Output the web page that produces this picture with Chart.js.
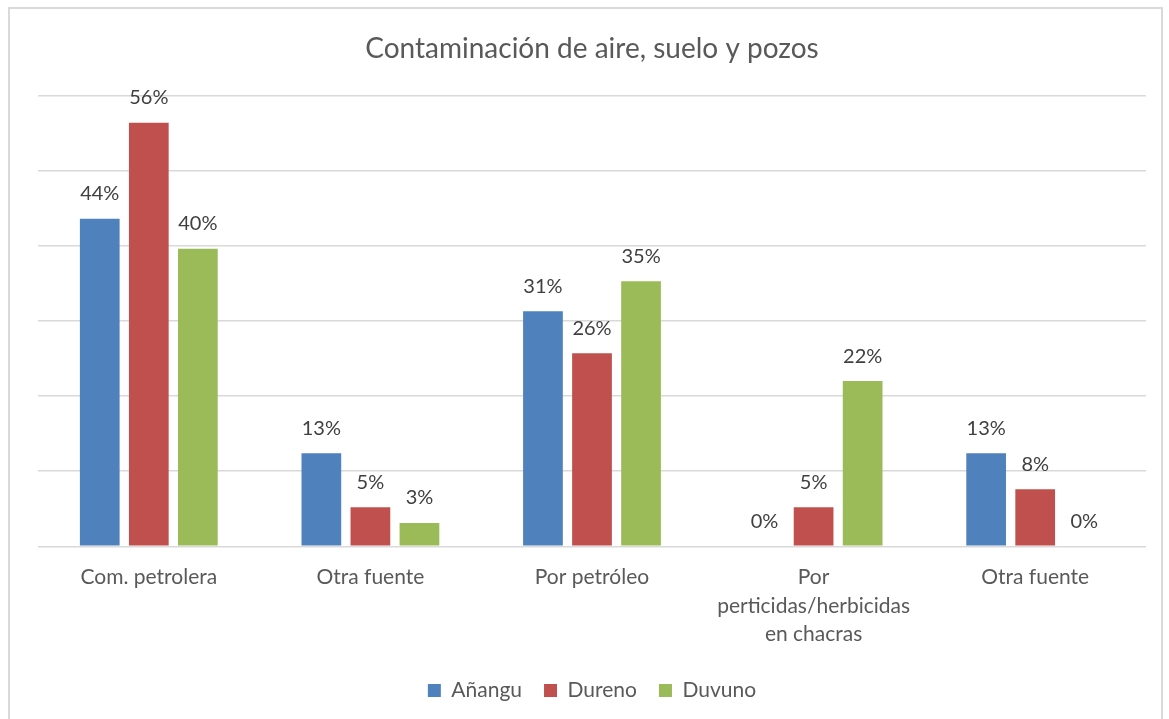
<!DOCTYPE html>
<html>
<head>
<meta charset="utf-8">
<script src="https://cdn.jsdelivr.net/npm/chart.js@4.4.1/dist/chart.umd.min.js"></script>
<style>
  html, body { margin: 0; padding: 0; background: #fff; }
  body { width: 1169px; height: 719px; overflow: hidden; position: relative; }
  #frame { position: absolute; left: 8px; top: 7px; width: 1155px; height: 730px; border: 2px solid #d9d9d9; box-sizing: border-box; }
  #wrap { position: absolute; left: 0; top: 0; width: 1169px; height: 719px; }
</style>
</head>
<body>
<div id="frame"></div>
<div id="wrap"><canvas id="c"></canvas></div>
<script>
const categories = ["Com. petrolera", "Otra fuente", "Por petróleo", ["Por", "perticidas/herbicidas", "en chacras"], "Otra fuente"];
const seriesNames = ["Añangu", "Dureno", "Duvuno"];
const anangu = [43.6, 12.4, 31.3, 0, 12.4];
const dureno = [56.4, 5.2, 25.7, 5.2, 7.6];
const duvuno = [39.6, 3.1, 35.3, 22.0, 0];
const labelsAnangu = ["44%", "13%", "31%", "0%", "13%"];
const labelsDureno = ["56%", "5%", "26%", "5%", "8%"];
const labelsDuvuno = ["40%", "3%", "35%", "22%", "0%"];
const yTicks = [0, 10, 20, 30, 40, 50, 60];
const colors = ["#4f81bd", "#c0504d", "#9bbb59"];

const FONT = "Lato, 'Open Sans', sans-serif";
const textColor = "#595959";

const valueLabels = {
  id: "valueLabels",
  afterDatasetsDraw(chart) {
    const ctx = chart.ctx;
    ctx.save();
    ctx.font = "20px " + FONT;
    ctx.fillStyle = "#404040";
    ctx.textAlign = "center";
    ctx.textBaseline = "middle";
    chart.data.datasets.forEach((ds, i) => {
      const meta = chart.getDatasetMeta(i);
      meta.data.forEach((bar, j) => {
        ctx.fillText(ds.valueLabels[j], bar.x, bar.y - 25);
      });
    });
    ctx.restore();
  }
};

new Chart(document.getElementById("c"), {
  type: "bar",
  data: {
    labels: categories,
    datasets: [
      { label: seriesNames[0], data: anangu, valueLabels: labelsAnangu, backgroundColor: colors[0] },
      { label: seriesNames[1], data: dureno, valueLabels: labelsDureno, backgroundColor: colors[1] },
      { label: seriesNames[2], data: duvuno, valueLabels: labelsDuvuno, backgroundColor: colors[2] }
    ]
  },
  options: {
    responsive: true,
    maintainAspectRatio: false,
    animation: false,
    datasets: { bar: { categoryPercentage: 0.664, barPercentage: 0.81 } },
    layout: { padding: { left: 38, right: 23, top: 0, bottom: 8 } },
    plugins: {
      title: {
        display: true,
        text: "Contaminación de aire, suelo y pozos",
        color: textColor,
        font: { family: FONT, size: 28, weight: "normal" },
        padding: { top: 32, bottom: 30 }
      },
      legend: {
        position: "bottom",
        labels: {
          color: textColor,
          font: { family: FONT, size: 21 },
          boxWidth: 13,
          boxHeight: 13,
          padding: 22
        }
      },
      tooltip: { enabled: false }
    },
    scales: {
      x: {
        grid: { display: false },
        border: { display: false },
        ticks: { color: textColor, font: { family: FONT, size: 21, lineHeight: 1.36 }, padding: 9, maxRotation: 0, autoSkip: false }
      },
      y: {
        min: 0,
        max: 60,
        afterBuildTicks(axis) { axis.ticks = yTicks.map(v => ({ value: v })); },
        ticks: { display: false },
        grid: { color: "#d9d9d9", lineWidth: 1.5, drawTicks: false },
        border: { display: false }
      }
    }
  },
  plugins: [valueLabels]
});
</script>
</body>
</html>
